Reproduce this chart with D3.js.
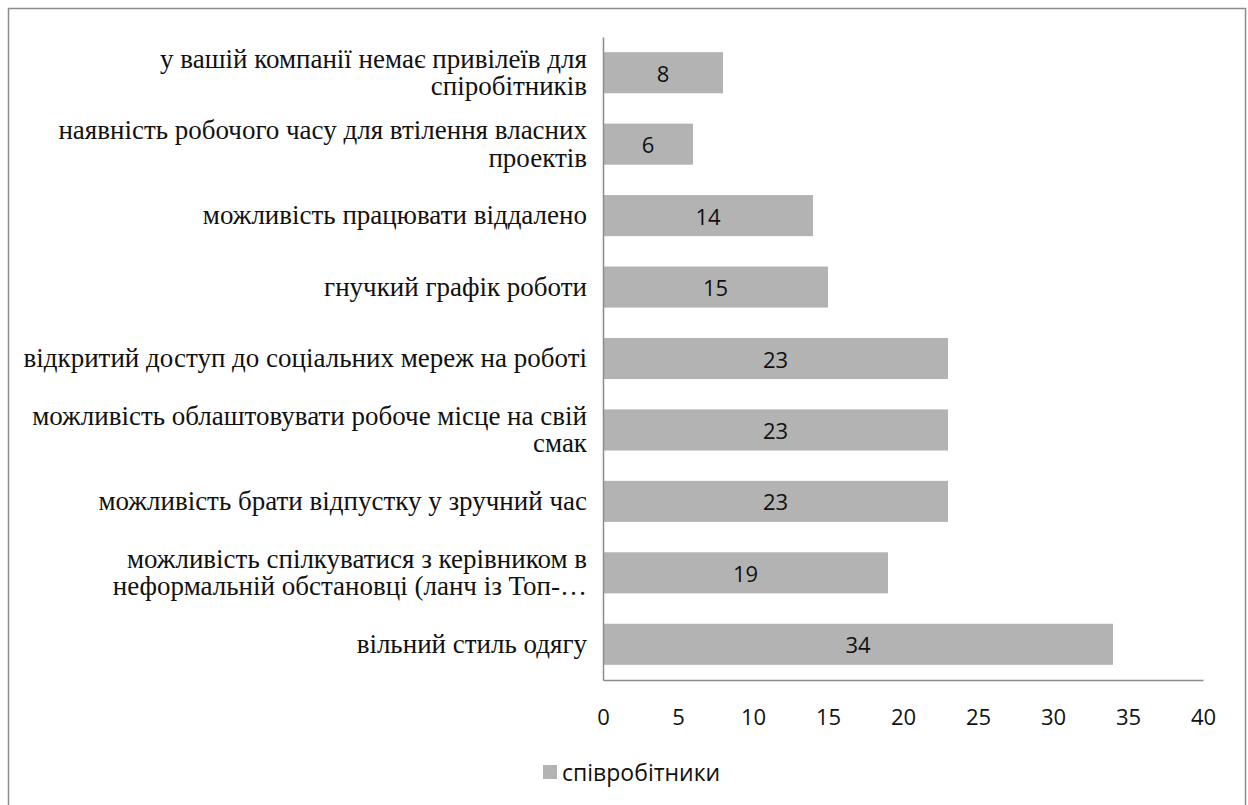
<!DOCTYPE html>
<html><head><meta charset="utf-8">
<script src="https://cdn.jsdelivr.net/npm/d3@7"></script>
<style>body{margin:0;background:#fff}svg{display:block}
.lab{font-family:"Liberation Serif","Times New Roman",serif;}
.sn{font-family:"Open Sans","Noto Sans",sans-serif;}
</style>
</head><body>
<script>
const categories = [
  "у вашій компанії немає привілеїв для\nспіробітників",
  "наявність робочого часу для втілення власних\nпроектів",
  "можливість працювати віддалено",
  "гнучкий графік роботи",
  "відкритий доступ до соціальних мереж на роботі",
  "можливість облаштовувати робоче місце на свій\nсмак",
  "можливість брати відпустку у зручний час",
  "можливість спілкуватися з керівником в\nнеформальній обстановці (ланч із Топ-…",
  "вільний стиль одягу"
];
const values = [8, 6, 14, 15, 23, 23, 23, 19, 34];
const xTicks = [0, 5, 10, 15, 20, 25, 30, 35, 40];
const seriesName = "співробітники";

const W = 1248, H = 805;
const svg = d3.select("body").append("svg").attr("width", W).attr("height", H);
svg.append("rect").attr("x", 8.5).attr("y", 8.5).attr("width", 1237).attr("height", 810)
  .attr("fill", "none").attr("stroke", "#8c8c8c").attr("stroke-width", 1.5);

const x = d3.scaleLinear().domain([0, 40]).range([603, 1203]);
const y = d3.scaleBand().domain(categories).range([37, 680]).paddingInner(0.425).paddingOuter(0.2125);

svg.append("g").selectAll("rect").data(values).join("rect")
  .attr("x", x(0)).attr("y", (d, i) => y(categories[i]))
  .attr("width", d => x(d) - x(0)).attr("height", y.bandwidth())
  .attr("fill", "#b3b3b3");

svg.append("g").selectAll("text").data(values).join("text")
  .attr("class", "sn")
  .attr("x", d => (x(d) + x(0)) / 2).attr("y", (d, i) => y(categories[i]) + y.bandwidth() / 2)
  .attr("text-anchor", "middle").attr("dominant-baseline", "central")
  .style("font-size", "22px").attr("fill", "#111")
  .text(d => d);

// axes
const xAxis = svg.append("g").attr("transform", "translate(0,680)")
  .call(d3.axisBottom(x).tickValues(xTicks).tickSize(0).tickPadding(0));
xAxis.select(".domain").attr("stroke", "#8c8c8c").attr("stroke-width", 1.5);
xAxis.selectAll("text").attr("class", "sn").style("font-size", "22px").attr("fill", "#111")
  .attr("y", 36).attr("dy", null).attr("dominant-baseline", "central");

const yAxis = svg.append("g").attr("transform", "translate(603,0)")
  .call(d3.axisLeft(y).tickSize(0).tickFormat(""));
yAxis.select(".domain").attr("stroke", "#8c8c8c").attr("stroke-width", 1.5);

// category labels
const lab = svg.append("g").selectAll("text").data(categories).join("text")
  .attr("class", "lab")
  .attr("x", 587).attr("y", d => y(d) + y.bandwidth() / 2)
  .attr("text-anchor", "end")
  .style("font-size", "27px").attr("fill", "#111");
lab.each(function(d) {
  const lines = d.split("\n");
  const el = d3.select(this);
  const lh = 27.5;
  const y0 = -(lines.length - 1) * lh / 2;
  lines.forEach((ln, k) => {
    el.append("tspan").attr("x", 587).attr("dy", k === 0 ? (y0 + 8.8) : lh).text(ln);
  });
});

// legend
const lg = svg.append("g");
lg.append("rect").attr("x", 543).attr("y", 765).attr("width", 14).attr("height", 14).attr("fill", "#b3b3b3");
lg.append("text").attr("class", "sn").attr("x", 562).attr("y", 772).attr("dominant-baseline", "central")
  .style("font-size", "23px").attr("fill", "#111").text(seriesName);
</script>
</body></html>
